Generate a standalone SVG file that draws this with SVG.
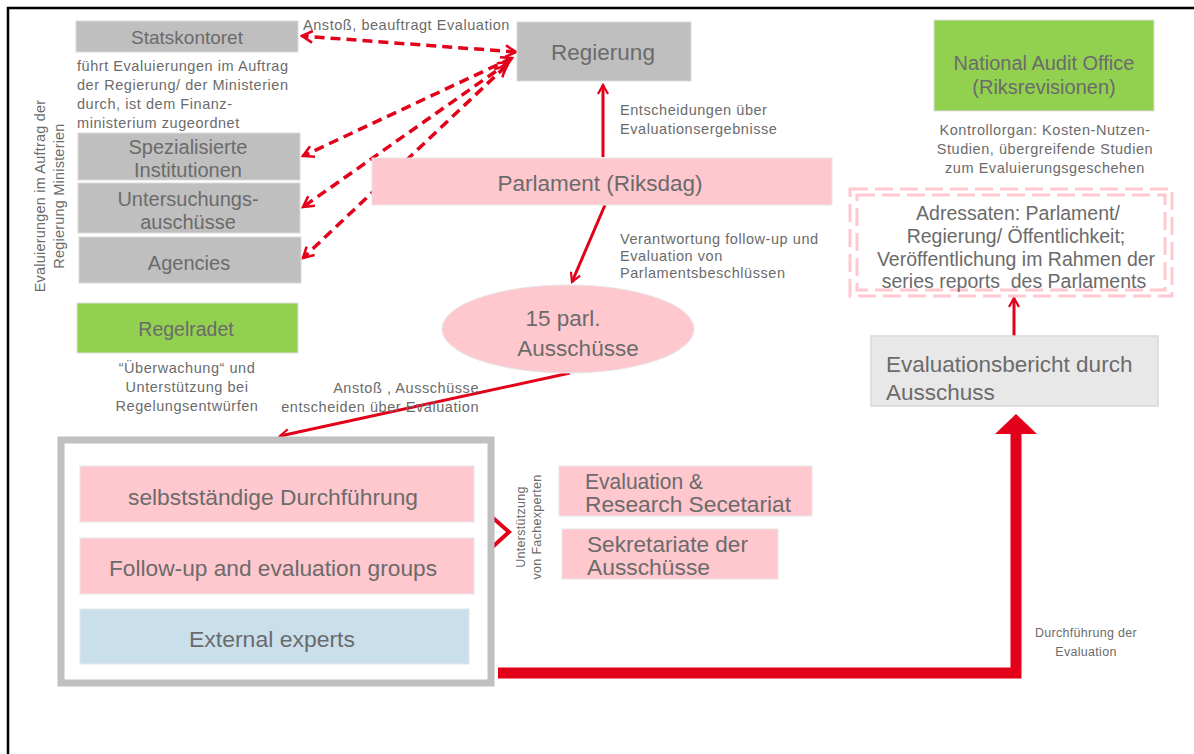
<svg xmlns="http://www.w3.org/2000/svg" width="1194" height="754" viewBox="0 0 1194 754">
<defs>
<style>
text{font-family:"Liberation Sans",Arial,sans-serif;fill:#6b6b6b}
.grey{fill:#bfbfbf;stroke:#d9d9d9;stroke-width:1}
.pink{fill:#ffc7ce;stroke:#e6e6e6;stroke-width:1}
.green{fill:#92d050;stroke:#e0e0e0;stroke-width:1}
.blue{fill:#c9dfec;stroke:#e6e6e6;stroke-width:1}
.t22{font-size:22.5px}
.t20{font-size:20px}
.t19{font-size:19.5px}
.t13{font-size:14.5px;letter-spacing:0.55px}
.t12{font-size:12.5px;letter-spacing:0.3px}
.n21{font-size:22px}
.c{text-anchor:middle}
.r{text-anchor:end}
.dash{fill:none;stroke:#e2001a;stroke-width:3.5;stroke-dasharray:10 6;marker-start:url(#ah);marker-end:url(#ah)}
.solid{fill:none;stroke:#e2001a;stroke-width:3;marker-end:url(#ah)}
.pd{fill:none;stroke:#ffc7ce;stroke-width:3;stroke-dasharray:18 7}
</style>
<marker id="ah" viewBox="0 0 12 12" refX="10" refY="6" markerWidth="4" markerHeight="4" orient="auto-start-reverse" markerUnits="strokeWidth">
<path d="M1,1 L10,6 L1,11" fill="none" stroke="#e2001a" stroke-width="2.2"/>
</marker>
</defs>
<rect width="1194" height="754" fill="#ffffff"/>
<path d="M8,754 V8 H1194" fill="none" stroke="#000" stroke-width="2.5"/>

<g id="connectors">
<line class="dash" x1="516" y1="52" x2="302" y2="36"/>
<line class="dash" x1="512" y1="58" x2="303" y2="156"/>
<line class="dash" x1="509" y1="62" x2="303" y2="207"/>
<line class="dash" x1="506" y1="66" x2="303" y2="258"/>
<line class="solid" x1="603" y1="157" x2="603" y2="85"/>
<line class="solid" x1="605" y1="205" x2="572" y2="282"/>
<line class="solid" x1="570" y1="373" x2="280" y2="436"/>
<polyline points="476,503 509,532 476,562" fill="none" stroke="#e2001a" stroke-width="4"/>
<polyline points="498,673 1016,673 1016,432" fill="none" stroke="#e2001a" stroke-width="11"/>
<polygon points="995,434 1016,414 1037,434" fill="#e2001a"/>
<line class="solid" x1="1014" y1="336" x2="1014" y2="298"/>
</g>

<g id="statskontoret">
<rect class="grey" x="76" y="21" width="222" height="31"/>
<text class="c" style="font-size:19px" x="187" y="44">Statskontoret</text>
</g>
<g id="statskontoret-note" class="t13">
<text x="77" y="71">führt Evaluierungen im Auftrag</text>
<text x="77" y="90">der Regierung/ der Ministerien</text>
<text x="77" y="109">durch, ist dem Finanz-</text>
<text x="77" y="128">ministerium zugeordnet</text>
</g>
<g id="regierung">
<rect class="grey" x="517" y="22" width="174" height="59"/>
<text class="c" style="font-size:22.5px" x="603" y="60">Regierung</text>
</g>
<text class="t13" x="303" y="30">Anstoß, beauftragt Evaluation</text>

<g id="side-label" class="t13">
<text class="c" transform="translate(45,196) rotate(-90)" style="letter-spacing:0.2px">Evaluierungen im Auftrag der</text>
<text class="c" transform="translate(64,196) rotate(-90)" style="letter-spacing:0.2px">Regierung Ministerien</text>
</g>

<g id="spezialisierte">
<rect class="grey" x="78" y="133" width="222" height="47"/>
<text class="t20 c" x="188" y="154">Spezialisierte</text>
<text class="t20 c" x="188" y="177">Institutionen</text>
</g>
<g id="untersuchung">
<rect class="grey" x="78" y="183" width="222" height="50"/>
<text class="t20 c" x="188" y="206">Untersuchungs-</text>
<text class="t20 c" x="188" y="229">auschüsse</text>
</g>
<g id="agencies">
<rect class="grey" x="79" y="237" width="222" height="46"/>
<text class="t20 c" x="189" y="270">Agencies</text>
</g>

<g id="parlament">
<rect class="pink" x="372" y="158" width="460" height="47"/>
<text class="t22 c" x="600" y="191">Parlament (Riksdag)</text>
</g>
<g id="parl-notes" class="t13">
<text x="620" y="115">Entscheidungen über</text>
<text x="620" y="134">Evaluationsergebnisse</text>
<text x="620" y="244">Verantwortung follow-up und</text>
<text x="620" y="261">Evaluation von</text>
<text x="620" y="278">Parlamentsbeschlüssen</text>
</g>

<g id="ausschuesse">
<ellipse cx="568" cy="329" rx="126" ry="44" fill="#ffc7ce" stroke="#e6e6e6" stroke-width="1"/>
<text class="t22 c" x="563" y="326">15 parl.</text>
<text class="t22 c" x="578" y="356">Ausschüsse</text>
</g>

<g id="regelradet">
<rect class="green" x="77" y="303" width="221" height="50"/>
<text class="t19 c" x="186" y="336">Regelradet</text>
</g>
<g id="regelradet-note" class="t13 c">
<text x="187" y="373">“Überwachung“ und</text>
<text x="187" y="392">Unterstützung bei</text>
<text x="187" y="411">Regelungsentwürfen</text>
</g>
<g class="t13 r">
<text x="479" y="393">Anstoß , Ausschüsse</text>
<text x="479" y="412">entscheiden über Evaluation</text>
</g>

<g id="ausschuss-gruppe">
<rect x="61" y="440" width="430" height="243" fill="#ffffff" stroke="#c0c0c0" stroke-width="7"/>
<rect class="pink" x="80" y="466" width="394" height="56"/>
<text class="n21" x="128" y="505" textLength="290" lengthAdjust="spacingAndGlyphs">selbstständige Durchführung</text>
<rect class="pink" x="80" y="538" width="394" height="56"/>
<text class="n21" x="109" y="576" textLength="328" lengthAdjust="spacingAndGlyphs">Follow-up and evaluation groups</text>
<rect class="blue" x="80" y="609" width="389" height="55"/>
<text class="n21" x="189" y="647" textLength="166" lengthAdjust="spacingAndGlyphs">External experts</text>
</g>

<g id="fachexperten-label" class="t12">
<text class="c" transform="translate(525,527) rotate(-90)">Unterstützung</text>
<text class="c" transform="translate(541,527) rotate(-90)">von Fachexperten</text>
</g>

<g id="secretariat">
<rect class="pink" x="559" y="466" width="253" height="50"/>
<text class="n21" x="585" y="489" textLength="118" lengthAdjust="spacingAndGlyphs">Evaluation &amp;</text>
<text class="n21" x="585" y="512" textLength="206" lengthAdjust="spacingAndGlyphs">Research Secetariat</text>
</g>
<g id="sekretariate">
<rect class="pink" x="562" y="529" width="216" height="50"/>
<text class="n21" x="587" y="552" textLength="161" lengthAdjust="spacingAndGlyphs">Sekretariate der</text>
<text class="n21" x="587" y="575" textLength="123" lengthAdjust="spacingAndGlyphs">Ausschüsse</text>
</g>

<g id="durchfuehrung-label" class="t12 c">
<text x="1086" y="637">Durchführung der</text>
<text x="1086" y="656">Evaluation</text>
</g>

<g id="bericht">
<rect x="871" y="336" width="287" height="70" fill="#e8e8e8" stroke="#d9d9d9" stroke-width="1.5"/>
<text class="t22" x="886" y="372">Evaluationsbericht durch</text>
<text class="t22" x="886" y="400">Ausschuss</text>
</g>

<g id="adressaten">
<rect class="pd" x="850" y="189" width="322" height="107"/>
<rect class="pd" x="857" y="195" width="308" height="95"/>
<text class="t19 c" x="1018" y="220">Adressaten: Parlament/</text>
<text class="t19 c" x="1016" y="243">Regierung/ Öffentlichkeit;</text>
<text class="t19 c" x="1016" y="266">Veröffentlichung im Rahmen der</text>
<text class="t19 c" x="1014" y="288" xml:space="preserve">series reports  des Parlaments</text>
</g>

<g id="riksrevisionen">
<rect class="green" x="934" y="20" width="220" height="91"/>
<text class="t20 c" x="1044" y="70">National Audit Office</text>
<text class="t20 c" x="1044" y="94">(Riksrevisionen)</text>
</g>
<g id="riksrevisionen-note" class="t13 c">
<text x="1045" y="135">Kontrollorgan: Kosten-Nutzen-</text>
<text x="1045" y="154">Studien, übergreifende Studien</text>
<text x="1045" y="173">zum Evaluierungsgeschehen</text>
</g>
</svg>
